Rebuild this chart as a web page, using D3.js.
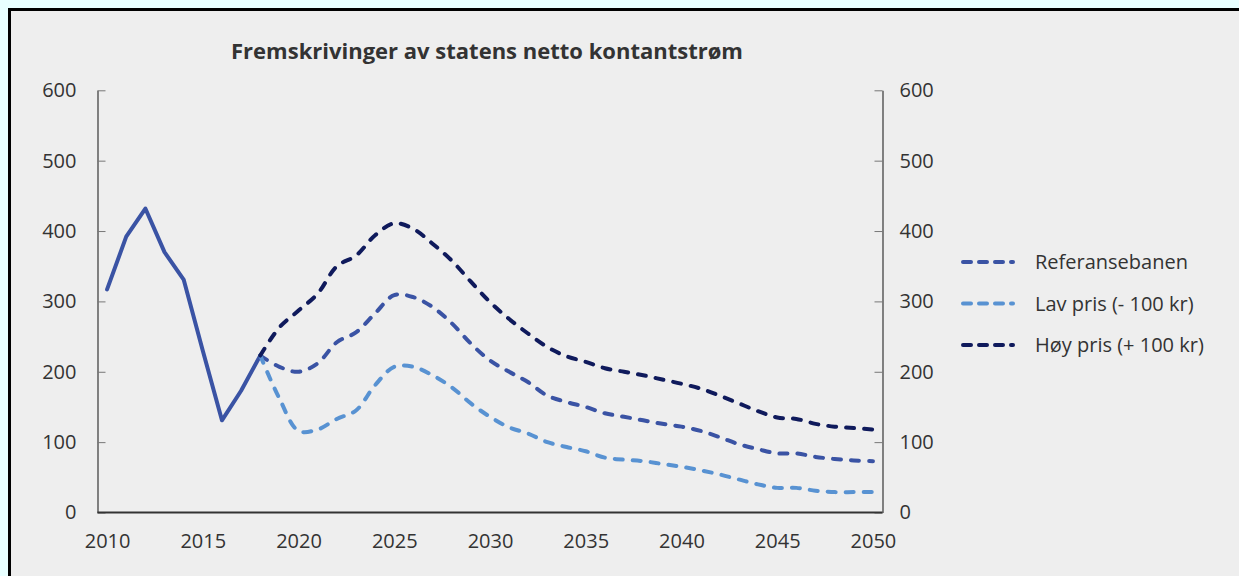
<!DOCTYPE html>
<html>
<meta charset='utf-8'>
<head>
<title>Fremskrivinger av statens netto kontantstrøm</title>
<script src='https://d3js.org/d3.v7.min.js'></script>
<style>
body { margin: 0; background: #e8ffff; overflow: hidden; }
text { font-family: 'Open Sans', 'Noto Sans', sans-serif; fill: #333; }
</style>
</head>
<body>
<div id='chart'></div>
<script>
var years = [2010, 2011, 2012, 2013, 2014, 2015, 2016, 2017, 2018, 2019,
             2020, 2021, 2022, 2023, 2024, 2025, 2026, 2027, 2028, 2029,
             2030, 2031, 2032, 2033, 2034, 2035, 2036, 2037, 2038, 2039,
             2040, 2041, 2042, 2043, 2044, 2045, 2046, 2047, 2048, 2049, 2050]

// historical, 2010-2018
var historisk = [317, 392, 432, 370, 331, 230, 131, 173, 223]

// projections, 2018-2050
var referanse = [223, 207, 200, 212, 242, 256, 283, 309, 306, 292, 269, 240,
                 216, 200, 185, 166, 157, 150, 141, 136, 131, 126,
                 122, 116, 107, 97, 90, 84, 84, 79, 76, 74, 73]
var lavPris = [223, 162, 116, 118, 133, 145, 181, 207, 207, 195, 178, 155,
               136, 121, 112, 100, 93, 87, 78, 75, 73, 69,
               65, 60, 54, 47, 40, 35, 35, 31, 29, 29, 29]
var hoyPris = [223, 263, 287, 311, 350, 365, 394, 411, 403, 382, 358, 328,
               299, 275, 254, 235, 222, 214, 205, 200, 195, 189,
               183, 176, 166, 155, 144, 135, 133, 126, 122, 120, 118]

var yTicks = [0, 100, 200, 300, 400, 500, 600]
var xTicks = [2010, 2015, 2020, 2025, 2030, 2035, 2040, 2045, 2050]

var seriesNames = ['Referansebanen', 'Lav pris (- 100 kr)', 'Høy pris (+ 100 kr)']
var seriesColors = ['#3a53a4', '#5892d2', '#0f1a5c']

var W = 1239, H = 576
var svg = d3.select('#chart').append('svg')
    .attr('width', W)
    .attr('height', H)

// frame
svg.append('rect')
    .attr('x', 9.5).attr('y', 9.5)
    .attr('width', 1400).attr('height', 800)
    .style('fill', '#eeeeee')
    .style('stroke', '#000')
    .style('stroke-width', 3)

var plotL = 97.5, plotR = 882.5, plotT = 90.3, plotB = 512.5

var x = d3.scalePoint()
    .domain(years)
    .range([plotL, plotR])
    .padding(0.5)

var y = d3.scaleLinear()
    .domain([0, 600])
    .range([plotB, plotT])

// title
svg.append('text')
    .attr('x', (plotL + plotR) / 2 - 3)
    .attr('y', 59)
    .style('text-anchor', 'middle')
    .style('font-size', '22px')
    .style('font-weight', 'bold')
    .text('Fremskrivinger av statens netto kontantstrøm')

// axes
var yl = svg.append('g')
    .attr('transform', 'translate(' + plotL + ',0)')
    .call(d3.axisLeft(y).tickValues(yTicks).tickSizeInner(-8).tickSizeOuter(0).tickPadding(21))
var yr = svg.append('g')
    .attr('transform', 'translate(' + plotR + ',0)')
    .call(d3.axisRight(y).tickValues(yTicks).tickSizeInner(-8).tickSizeOuter(0).tickPadding(17))
;[yl, yr].forEach(function(g) {
    g.select('.domain').style('stroke', '#444').style('stroke-width', 1.3)
    g.selectAll('.tick line').style('stroke', '#777')
    g.selectAll('.tick text').style('font-size', '20px').style('fill', '#333')
        .attr('font-family', null)
})

var xa = svg.append('g')
    .attr('transform', 'translate(0,' + plotB + ')')
    .call(d3.axisBottom(x).tickValues(xTicks).tickSize(0).tickPadding(21))
xa.select('.domain').remove()
xa.selectAll('.tick text').style('font-size', '20px').style('fill', '#333')
    .attr('font-family', null)
svg.append('line')
    .attr('x1', plotL).attr('x2', plotR)
    .attr('y1', plotB).attr('y2', plotB)
    .style('stroke', '#333')
    .style('stroke-width', 2)

// lines
var histLine = d3.line()
    .x(function(d, i) { return x(years[i]) })
    .y(function(d) { return y(d) })

svg.append('path')
    .datum(historisk)
    .attr('d', histLine)
    .style('fill', 'none')
    .style('stroke', seriesColors[0])
    .style('stroke-width', 4)
    .style('stroke-linejoin', 'round')
    .style('stroke-linecap', 'round')

var projLine = d3.line()
    .x(function(d, i) { return x(years[i + 8]) })
    .y(function(d) { return y(d) })
    .curve(d3.curveCatmullRom.alpha(0.5))

var projections = [referanse, lavPris, hoyPris]
projections.forEach(function(s, k) {
    svg.append('path')
        .datum(s)
        .attr('d', projLine)
        .style('fill', 'none')
        .style('stroke', seriesColors[k])
        .style('stroke-width', 4)
        .style('stroke-dasharray', '8,10')
        .style('stroke-linecap', 'round')
})

// legend
var legend = svg.selectAll('.legend')
    .data(seriesNames)
    .enter()
    .append('g')
    .attr('class', 'legend')
    .attr('transform', function(d, i) { return 'translate(0,' + (262 + i * 41.5) + ')' })

legend.append('line')
    .attr('x1', 963).attr('x2', 1013)
    .attr('y1', 0).attr('y2', 0)
    .style('stroke', function(d, i) { return seriesColors[i] })
    .style('stroke-width', 4)
    .style('stroke-dasharray', '8,8')
    .style('stroke-linecap', 'round')

legend.append('text')
    .attr('x', 1035)
    .attr('y', 0)
    .attr('dy', '0.35em')
    .style('font-size', '20px')
    .text(function(d) { return d })
</script>
</body>
</html>
